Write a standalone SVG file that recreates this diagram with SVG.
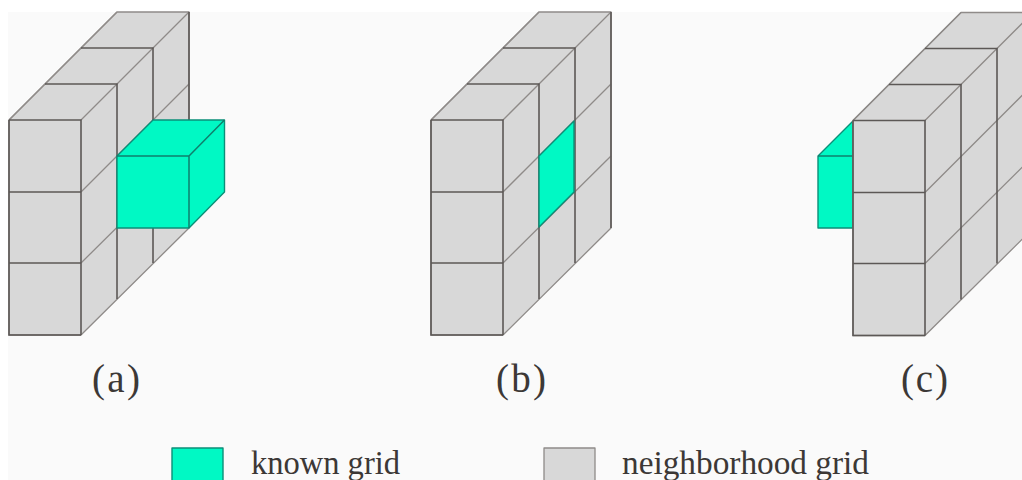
<svg xmlns="http://www.w3.org/2000/svg" width="1022" height="480" viewBox="0 0 1022 480">
<style>
.g{fill:#d8d8d8;stroke:#8f8b89;stroke-width:1.3;stroke-linejoin:round}
.f{fill:none;stroke:#5c5856;stroke-width:1.6}
.d{fill:none;stroke:#8f8b89;stroke-width:1.3}
.k{fill:#00f9c4;stroke:#0b8f78;stroke-width:1.4;stroke-linejoin:round}
.kl{fill:none;stroke:#0f7f6c;stroke-width:1.5}
text{font-family:"Liberation Serif","Times New Roman",serif;fill:#3c3836}
.c{font-size:39px}
.l{font-size:33px}
</style>
<defs>
<g id="block">
<path class="g" d="M0 108L108 0H180V216L72 323H0Z"/>
<path class="d" d="M0 108L36 72M36 72L72 36M72 36L108 0M72 108L180 0M72 180L180 72M72 251L180 144"/>
<path class="f" d="M0 108H72V323M0 180H72M0 251H72M36 72H108V287M72 36H144V251M180 0V216M0 108V323H72"/>
</g>
</defs>
<rect width="1022" height="480" fill="#fff"/>
<rect x="8" y="12" width="1014" height="468" fill="#fafafa"/>
<g id="figure-a">
<use href="#block" x="9" y="12"/>
<path class="k" d="M117 156L153 120H224.500V192L189 228H117Z"/>
<path class="kl" d="M117 156H189V228M189 156L224.500 120"/>
<text class="c" x="92" y="392" textLength="48">(a)</text>
</g>
<g id="figure-b">
<use href="#block" x="431" y="12"/>
<path class="k" d="M539 156L574 121V192L539 227Z"/>
<text class="c" x="496" y="392" textLength="50">(b)</text>
</g>
<g id="figure-c">
<path class="k" d="M818 156L853 121V228H818Z"/>
<path class="kl" d="M818 156H853"/>
<use href="#block" x="853" y="12.500"/>
<text class="c" x="901" y="392" textLength="47">(c)</text>
</g>
<g id="legend-known">
<rect class="k" x="172" y="448" width="51" height="40"/>
<text class="l" x="251" y="474" textLength="149" lengthAdjust="spacingAndGlyphs">known grid</text>
</g>
<g id="legend-neighborhood">
<rect class="g" x="544" y="448" width="51" height="40"/>
<text class="l" x="622" y="474" textLength="247" lengthAdjust="spacingAndGlyphs">neighborhood grid</text>
</g>
</svg>
